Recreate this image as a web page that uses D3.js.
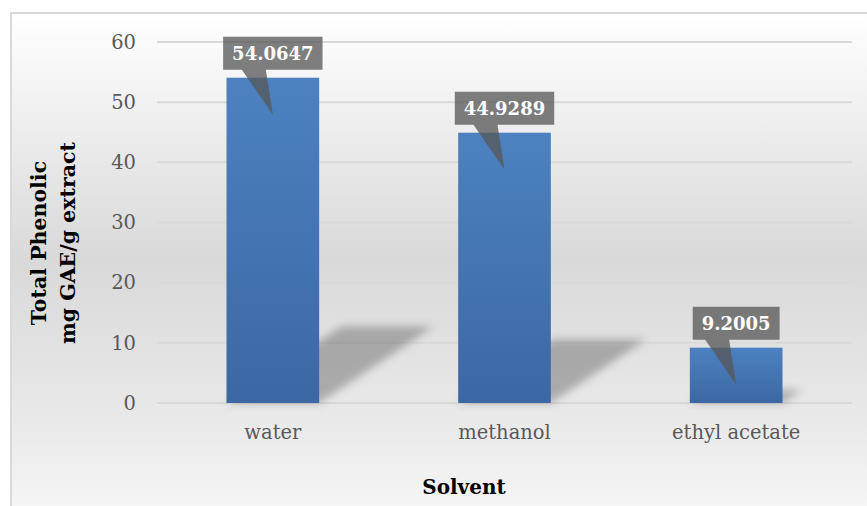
<!DOCTYPE html>
<html>
<head>
<meta charset="utf-8">
<script src="https://cdn.jsdelivr.net/npm/d3@7"></script>
<style>
  html, body { margin: 0; padding: 0; background: #ffffff; }
  svg { display: block; }
</style>
</head>
<body>
<svg id="chart" width="867" height="506"></svg>
<script>
// Total phenolic content by extraction solvent
const solvents = ["water", "methanol", "ethyl acetate"];
const phenolic = [54.0647, 44.9289, 9.2005];
const yTicks = [0, 10, 20, 30, 40, 50, 60];
const yTitleLines = ["Total Phenolic", "mg GAE/g extract"];
const xTitle = "Solvent";

const W = 867, H = 506;
const plot = { left: 157, right: 852, top: 42, bottom: 403 };
const FONT = "'DejaVu Serif', 'Liberation Serif', serif";

const svg = d3.select("#chart");
const defs = svg.append("defs");

// chart area background: white at top, grey through the middle, light at bottom
const bg = defs.append("linearGradient").attr("id", "bgGrad")
  .attr("x1", 0).attr("y1", 0).attr("x2", 0).attr("y2", 1);
[[0, "#ffffff"], [0.46, "#d9d9d9"], [0.76, "#e9e9e9"], [1, "#fbfbfb"]]
  .forEach(([o, c]) => bg.append("stop").attr("offset", o).attr("stop-color", c));

// bar fill: slightly darker towards the base
const barGrad = defs.append("linearGradient").attr("id", "barGrad")
  .attr("x1", 0).attr("y1", 0).attr("x2", 0).attr("y2", 1);
barGrad.append("stop").attr("offset", 0).attr("stop-color", "#4d81c0");
barGrad.append("stop").attr("offset", 1).attr("stop-color", "#3b68a3");

const blur = defs.append("filter").attr("id", "shadowBlur")
  .attr("x", "-50%").attr("y", "-50%").attr("width", "200%").attr("height", "200%");
blur.append("feGaussianBlur").attr("stdDeviation", 4.5);

svg.append("rect")
  .attr("x", 11).attr("y", 13).attr("width", W + 20).attr("height", H + 30)
  .attr("fill", "url(#bgGrad)")
  .attr("stroke", "#d9d9d9").attr("stroke-width", 2);

const x = d3.scaleBand()
  .domain(solvents)
  .range([plot.left, plot.right])
  .paddingInner(0.6).paddingOuter(0.3);

const y = d3.scaleLinear().domain([0, 60]).range([plot.bottom, plot.top]);

// horizontal gridlines
svg.append("g")
  .selectAll("line").data(yTicks).join("line")
  .attr("x1", plot.left).attr("x2", plot.right)
  .attr("y1", d => y(d)).attr("y2", d => y(d))
  .attr("stroke", "#d9d9d9").attr("stroke-width", 2);

// y axis labels
const yAxis = d3.axisLeft(y).tickValues(yTicks).tickSize(0).tickPadding(0);
const gy = svg.append("g").attr("transform", "translate(136,0)").call(yAxis);
gy.select(".domain").remove();
gy.selectAll("text")
  .attr("font-family", FONT).attr("font-size", 19.5).attr("fill", "#595959");

// x axis labels
const xAxis = d3.axisBottom(x).tickSize(0).tickPadding(0);
const gx = svg.append("g").attr("transform", `translate(0,${plot.bottom + 22})`).call(xAxis);
gx.select(".domain").remove();
gx.selectAll("text")
  .attr("font-family", FONT).attr("font-size", 19.5).attr("fill", "#595959");

const data = solvents.map((s, i) => ({ s, v: phenolic[i] }));

// perspective shadows cast behind each bar
svg.append("g").selectAll("path").data(data).join("path")
  .attr("d", d => {
    const x0 = x(d.s), x1 = x(d.s) + x.bandwidth();
    const base = y(0);
    const h = 0.235 * (y(0) - y(d.v));
    const dx = 1.5 * h;
    return `M${x0},${base}L${x1},${base}L${x1 + dx},${base - h}L${x0 + dx},${base - h}Z`;
  })
  .attr("fill", "#000").attr("fill-opacity", 0.26)
  .attr("filter", "url(#shadowBlur)");

// bars
svg.append("g").selectAll("rect").data(data).join("rect")
  .attr("x", d => x(d.s)).attr("width", x.bandwidth())
  .attr("y", d => y(d.v)).attr("height", d => y(0) - y(d.v))
  .attr("fill", "url(#barGrad)");

// value callouts
const callouts = svg.append("g");
data.forEach(d => {
  const cx = x(d.s) + x.bandwidth() / 2;
  const top = y(d.v);
  const g = callouts.append("g");
  const label = g.append("text")
    .attr("x", cx).attr("text-anchor", "middle")
    .attr("font-family", FONT).attr("font-size", 18).attr("font-weight", "bold")
    .attr("fill", "#ffffff")
    .text(d.v.toFixed(4));
  const tw = label.node().getComputedTextLength();
  const bw = tw + 18, bh = 33;
  const bx = cx - bw / 2, by = top - 8 - bh;
  label.attr("y", by + 23);
  g.insert("path", "text")
    .attr("d", `M${bx},${by}H${bx + bw}V${by + bh}H${cx - 7}L${cx},${top + 37}L${cx - 31},${by + bh}H${bx}Z`)
    .attr("fill", "#575757").attr("fill-opacity", 0.76);
});

// axis titles
svg.append("text")
  .attr("transform", "translate(51,243) rotate(-90)")
  .attr("text-anchor", "middle")
  .attr("font-family", FONT).attr("font-size", 20.5).attr("font-weight", "bold")
  .attr("fill", "#000")
  .selectAll("tspan").data(yTitleLines).join("tspan")
  .attr("x", 0).attr("dy", (d, i) => i === 0 ? -5 : 29)
  .text(d => d);

svg.append("text")
  .attr("x", 464).attr("y", 494)
  .attr("text-anchor", "middle")
  .attr("font-family", FONT).attr("font-size", 20).attr("font-weight", "bold")
  .attr("fill", "#000")
  .text(xTitle);
</script>
</body>
</html>
